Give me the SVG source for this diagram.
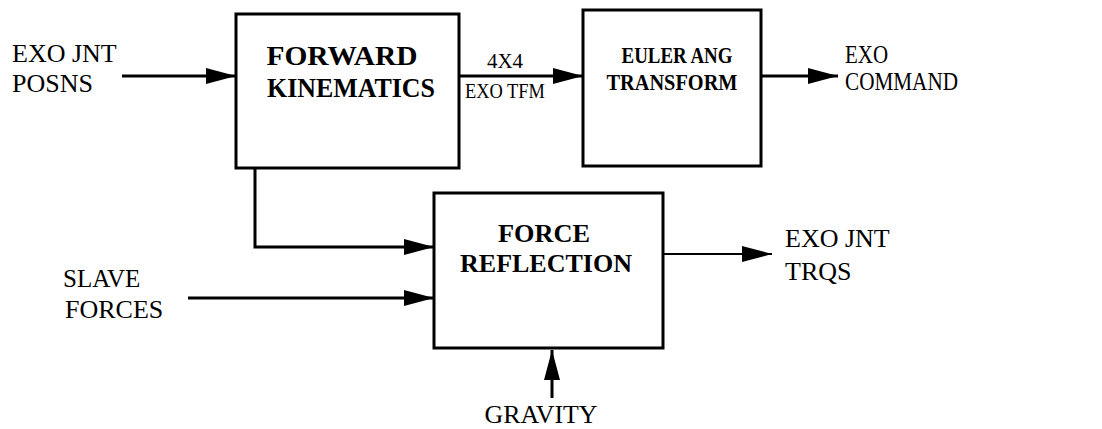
<svg xmlns="http://www.w3.org/2000/svg" width="1102" height="429" viewBox="0 0 1102 429">
<style>
.box{fill:none;stroke:#000;stroke-width:3}
.ln{fill:none;stroke:#000;stroke-width:3}
.thin{fill:none;stroke:#000;stroke-width:2}
</style>
<defs>
<marker id="ah" markerUnits="userSpaceOnUse" markerWidth="32" markerHeight="18" refX="30" refY="8" orient="auto">
<path d="M0,0 L30,8 L0,16 Z" fill="#000"/>
</marker>
</defs>
<rect width="1102" height="429" fill="#fff"/>
<g id="connectors">
<line class="ln" x1="122" y1="76" x2="236" y2="76" marker-end="url(#ah)"/>
<line class="ln" x1="459" y1="76" x2="583" y2="76" marker-end="url(#ah)"/>
<line class="ln" x1="761" y1="76" x2="838" y2="76" marker-end="url(#ah)"/>
<polyline class="ln" points="255,168 255,247 434,247" marker-end="url(#ah)"/>
<line class="ln" x1="188" y1="298" x2="434" y2="298" marker-end="url(#ah)"/>
<line class="ln" x1="552" y1="398" x2="552" y2="350" marker-end="url(#ah)"/>
<line class="thin" x1="663" y1="254" x2="772" y2="254" marker-end="url(#ah)"/>
</g>
<g id="fk">
<rect class="box" x="236" y="14" width="223" height="154"/>
<text x="342" y="65" font-family="Liberation Serif" font-size="27" font-weight="bold" text-anchor="middle" textLength="151" lengthAdjust="spacingAndGlyphs">FORWARD</text>
<text x="351" y="97" font-family="Liberation Serif" font-size="27" font-weight="bold" text-anchor="middle" textLength="168" lengthAdjust="spacingAndGlyphs">KINEMATICS</text>
</g>
<g id="euler">
<rect class="box" x="583" y="10" width="178" height="156"/>
<text x="677" y="63" font-family="Liberation Serif" font-size="24" font-weight="bold" text-anchor="middle" textLength="111" lengthAdjust="spacingAndGlyphs">EULER ANG</text>
<text x="672" y="90" font-family="Liberation Serif" font-size="24" font-weight="bold" text-anchor="middle" textLength="131" lengthAdjust="spacingAndGlyphs">TRANSFORM</text>
</g>
<g id="force">
<rect class="box" x="434" y="193" width="229" height="155"/>
<text x="544" y="242" font-family="Liberation Serif" font-size="26" font-weight="bold" text-anchor="middle" textLength="92" lengthAdjust="spacingAndGlyphs">FORCE</text>
<text x="546" y="272" font-family="Liberation Serif" font-size="26" font-weight="bold" text-anchor="middle" textLength="172" lengthAdjust="spacingAndGlyphs">REFLECTION</text>
</g>
<g id="labels">
<text x="12" y="62" font-family="Liberation Serif" font-size="26">EXO JNT</text>
<text x="12" y="92" font-family="Liberation Serif" font-size="26">POSNS</text>
<text x="505" y="68" font-family="Liberation Serif" font-size="21" text-anchor="middle">4X4</text>
<text x="505" y="98" font-family="Liberation Serif" font-size="20" text-anchor="middle" textLength="80" lengthAdjust="spacingAndGlyphs">EXO TFM</text>
<text x="845" y="63" font-family="Liberation Serif" font-size="25" textLength="43" lengthAdjust="spacingAndGlyphs">EXO</text>
<text x="845" y="90" font-family="Liberation Serif" font-size="25" textLength="113" lengthAdjust="spacingAndGlyphs">COMMAND</text>
<text x="63" y="287" font-family="Liberation Serif" font-size="25">SLAVE</text>
<text x="65" y="318" font-family="Liberation Serif" font-size="26">FORCES</text>
<text x="785" y="247" font-family="Liberation Serif" font-size="26">EXO JNT</text>
<text x="785" y="280" font-family="Liberation Serif" font-size="26">TRQS</text>
<text x="541" y="423" font-family="Liberation Serif" font-size="26" text-anchor="middle" textLength="113" lengthAdjust="spacingAndGlyphs">GRAVITY</text>
</g>
</svg>
